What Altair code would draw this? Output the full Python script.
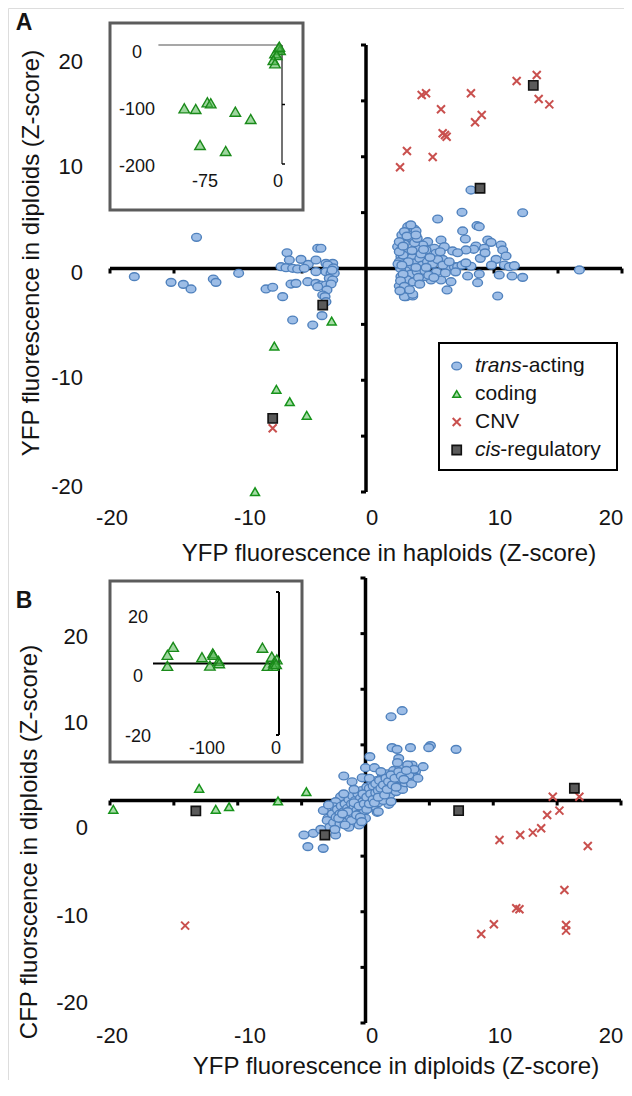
import altair as alt
import pandas as pd

FONT = "Liberation Sans"
INK = "#141414"

# ---------------- Panel A: YFP haploid (x) vs YFP diploid (y) Z-scores ----------------
a_trans = [
    (-13.24, 2.79), (-18.10, -0.73), (-15.23, -1.24), (-14.27, -1.42), (-13.67, -1.83),
    (-11.93, -0.94), (-11.72, -1.24), (-9.95, -0.43), (-7.81, -1.83), (-7.29, -1.68),
    (-6.51, -2.52), (-5.73, -4.61), (-4.16, -5.06), (-3.44, -4.22), (-6.17, 1.41),
    (-3.77, 1.81), (-3.52, 1.81), (-6.64, 0.16), (-6.25, 0.07), (-5.99, 0.76),
    (-5.08, 0.82), (-4.51, 0.37), (-3.91, 0.76), (-5.73, 0.02), (-5.34, -0.04),
    (-4.82, 0.02), (-3.91, -0.28), (-5.86, -1.39), (-5.47, -1.33), (-4.55, -1.18),
    (-3.91, -1.33), (-3.52, -1.48), (-3.13, 0.46), (-2.60, 0.46), (-2.99, 0.31),
    (-3.13, -0.28), (-2.73, -0.43), (-2.48, -0.43), (-2.87, -0.88), (-2.60, -1.03),
    (-3.13, -1.48), (-2.73, -1.39), (-3.05, -1.92), (-3.38, -2.37), (-3.20, -2.52),
    (-3.13, -2.97), (-3.77, -1.63), (-2.55, 0.05), (-2.65, -0.15),
    (8.20, 7.02), (7.50, 5.03), (12.24, 4.99), (5.60, 4.43), (8.67, 3.83),
    (3.26, 3.74), (3.77, 3.53), (3.91, 3.36), (7.55, 3.36), (7.76, 2.64),
    (5.86, 2.55), (4.82, 2.40), (9.51, 2.55), (9.77, 2.34), (10.55, 2.10),
    (10.68, 1.66), (8.59, 2.01), (8.41, 1.72), (7.81, 1.66), (9.24, 1.81),
    (5.34, 1.81), (5.47, 1.36), (6.12, 1.95), (6.77, 1.57), (7.16, 1.41),
    (2.47, 1.95), (2.73, 1.66), (3.13, 2.55), (3.52, 2.70), (4.04, 2.40),
    (4.43, 2.10), (4.69, 1.66), (10.16, 0.82), (10.94, 1.12), (10.81, 0.31),
    (11.20, 0.16), (11.59, 0.25), (8.93, 0.91), (2.73, 1.06), (2.99, 0.76),
    (2.60, 0.61), (2.99, 0.31), (5.99, 0.82), (6.38, 0.16), (6.90, 0.16),
    (7.16, 0.16), (7.94, -0.67), (8.85, -0.49), (8.72, -1.27), (10.41, -0.58),
    (11.41, -0.67), (12.24, -0.79), (10.29, -2.46), (6.33, -1.92), (6.64, -1.18),
    (5.86, -1.03), (5.08, -1.03), (4.56, -0.73), (2.73, -0.73), (2.87, -1.33),
    (2.60, -1.57), (3.26, -1.92), (3.13, -2.52), (3.65, -2.46), (16.67, -0.13),
    (2.8, 3.0), (3.0, 2.2), (2.6, 2.4), (3.3, 1.5), (3.6, 1.0), (2.9, 1.2),
    (3.4, 0.2), (3.8, 0.5), (4.2, 0.9), (3.1, -0.2), (2.7, 0.0), (3.5, -0.5),
    (4.0, -0.3), (4.4, 0.3), (3.2, -1.0), (3.7, -1.2), (2.9, -0.5), (4.8, 0.6),
    (5.2, 0.4), (5.6, 0.8), (4.6, -0.2), (3.9, 1.8), (4.3, 1.3), (5.0, 1.0),
    (2.5, 0.4), (3.4, 2.8), (3.0, 3.3), (3.5, 3.9), (3.8, 2.3), (2.7, -1.1),
    (6.0, 0.3), (5.5, -0.3), (4.9, -0.6), (7.5, 0.3), (8.2, 0.2), (9.3, 1.4),
    (6.5, 0.6), (7.8, 0.5), (9.8, 0.3), (8.85, 3.74), (3.0, -2.52), (3.65, -2.31),
    (2.6, 1.5), (2.9, 2.0), (3.2, 2.9), (3.3, 0.6), (3.6, 1.6), (3.9, 0.1),
    (4.1, -0.8), (4.5, 1.7), (4.7, 0.1), (2.8, 0.3), (3.0, -1.6), (3.4, -1.9),
    (4.0, 2.7), (4.2, -1.4), (5.3, -0.8), (2.65, -2.0), (3.9, 3.0), (5.8, 1.5),
    (6.2, -0.4), (7.0, -0.3),
]
a_coding = [(-2.68, -4.70), (-7.16, -6.94), (-7.00, -10.81), (-5.96, -11.92),
            (-4.63, -13.14), (-8.67, -19.97)]
a_cnv = [(13.34, 17.32), (11.77, 16.78), (4.35, 15.53), (4.69, 15.68), (8.20, 15.68),
         (13.49, 15.17), (14.32, 14.69), (5.86, 14.25), (9.04, 13.74), (8.52, 13.08),
         (5.99, 12.10), (6.17, 11.95), (6.30, 11.79), (3.20, 10.51), (5.21, 9.98),
         (2.66, 9.06), (-7.29, -14.30)]
a_cis = [(13.07, 16.39), (8.91, 7.18), (-3.38, -3.27), (-7.29, -13.41)]
ia_coding = [(-3.6, -5.5), (-1.9, -8.4), (-6.8, -13.9), (-5.1, -16.8), (-8.4, -25.2),
             (-6.8, -30.8), (-2.6, -2.9), (-94.9, -106.4), (-83.8, -107.6),
             (-72.5, -96.3), (-69.2, -98.0), (-45.3, -112.1), (-30.4, -124.4),
             (-79.6, -168.1), (-54.7, -178.2)]

# ---------------- Panel B: YFP diploid (x) vs CFP diploid (y) Z-scores ----------------
b_trans = [
    (2.00, 7.53), (2.87, 8.07), (2.08, 4.75), (2.47, 4.60), (3.52, 4.75), (5.08, 4.93),
    (4.95, 4.75), (7.09, 4.60), (0.34, 3.94), (2.60, 3.79), (0.00, 2.95), (0.70, 2.95),
    (3.65, 3.19), (4.51, 3.04), (3.91, 2.59), (-1.70, 2.20), (-1.05, 1.68), (-0.26, 2.04),
    (3.38, 2.00), (3.91, 2.09), (-1.95, 0.34), (-2.34, -0.11), (-2.47, -0.56),
    (-2.94, -1.60), (-2.34, -2.20), (-2.34, -3.10), (-4.09, -2.95), (-4.82, -3.10),
    (-4.51, -4.15), (-3.31, -4.30), (-0.52, -2.05), (0.91, -1.06), (1.82, -0.34),
    (-3.0, -1.8), (-2.8, -2.4), (-2.6, -1.2), (-2.5, -2.0), (-2.3, -1.5), (-2.2, -0.8),
    (-2.0, -2.1), (-2.0, -1.2), (-1.9, -0.5), (-1.8, -1.7), (-1.7, -1.0), (-1.6, -0.3),
    (-1.5, -1.9), (-1.5, -1.3), (-1.4, -0.7), (-1.3, 0.1), (-1.2, -1.5), (-1.2, -0.9),
    (-1.1, -0.3), (-1.0, -1.2), (-1.0, 0.4), (-0.9, -0.6), (-0.8, -1.6), (-0.8, 0.0),
    (-0.7, -0.9), (-0.6, 0.6), (-0.6, -0.3), (-0.5, -1.2), (-0.4, 0.2), (-0.3, -0.6),
    (-0.3, 0.9), (-0.2, -0.1), (-0.1, -1.0), (0.0, 0.5), (0.0, -0.4), (0.1, 1.2),
    (0.2, 0.1), (0.2, -0.7), (0.3, 0.8), (0.4, -0.2), (0.5, 1.5), (0.5, 0.4),
    (0.6, -0.5), (0.7, 1.0), (0.8, 0.2), (0.9, 1.8), (0.9, 0.7), (1.0, -0.2),
    (1.1, 1.3), (1.2, 0.4), (1.3, 2.1), (1.3, 0.9), (1.4, 0.0), (1.5, 1.6),
    (1.6, 0.8), (1.7, 2.4), (1.8, 1.3), (1.9, 0.5), (2.0, 1.9), (2.1, 1.0),
    (2.2, 2.7), (2.3, 1.6), (2.4, 0.8), (2.5, 2.2), (2.6, 1.3), (2.7, 3.0),
    (2.8, 1.9), (2.9, 1.0), (3.0, 2.5), (3.1, 1.6), (3.3, 3.2), (3.4, 2.3),
    (3.6, 1.5), (3.8, 2.8), (4.1, 2.0), (-3.3, -0.9), (-3.5, -2.6), (-2.9, -0.4),
    (-1.7, 0.6), (-0.9, 1.0), (0.3, 2.0), (1.2, 2.6), (1.0, -1.0), (0.0, -1.6),
    (-0.5, -2.2), (2.0, -0.1), (-1.3, -2.4), (2.5, 3.4),
    (-1.4, -1.0), (-1.1, -1.8), (-0.9, -0.2), (-0.7, -1.3), (-0.5, -0.5), (-0.4, -1.5),
    (-0.2, 0.6), (-0.1, -0.3), (0.1, 0.3), (0.1, -0.8), (0.3, 1.1), (0.3, -0.3),
    (0.4, 0.6), (0.6, 1.3), (0.6, 0.1), (0.7, -0.2), (0.8, 1.5), (0.8, 0.7),
    (1.0, 0.9), (1.0, 0.3), (1.1, 1.8), (1.2, 1.1), (1.4, 1.4), (1.5, 0.5),
    (1.6, 2.0), (1.7, 1.0), (1.8, 1.7), (2.0, 2.3), (2.1, 1.4), (2.3, 2.0),
    (2.4, 1.2), (2.6, 2.6), (2.8, 2.2), (3.0, 1.9), (3.2, 2.7), (-2.1, -1.6),
    (-1.8, -1.2), (-2.4, -2.6), (-1.6, -2.2), (-0.3, -1.9),
]
b_coding = [(-19.74, -0.79), (-13.02, 1.10), (-11.72, -0.79), (-10.68, -0.56),
            (-6.85, -0.04), (-4.63, 0.79)]
b_cnv = [(14.66, 0.34), (16.74, 0.34), (15.18, -0.91), (14.22, -1.30), (13.75, -2.50),
         (13.10, -2.89), (12.11, -3.10), (10.49, -3.55), (17.40, -4.09), (15.57, -8.04),
         (11.80, -9.69), (12.05, -9.78), (10.05, -11.13), (9.06, -12.00), (15.70, -11.19),
         (15.70, -11.70), (-14.12, -11.25)]
b_cis = [(-13.28, -0.94), (-3.18, -3.10), (7.29, -0.91), (16.35, 1.10)]
ib_coding = [(-155, 2.9), (-147, 5.6), (-155, -0.8), (-107, 2.1), (-96, -0.7),
             (-92, 3.4), (-91, 2.9), (-84, 0.9), (-83, 0.1), (-23, 5.3), (-16, -0.8),
             (-10, 2.3), (-7, 0.3), (-3, 1.4), (-8, -0.8), (-4, -0.2)]

# ---------------- tick labels / legend text ----------------
main_labels = [-20, -10, 0, 10, 20]
main_ticks = [-20, -15, -10, -5, 5, 10, 15, 20]
ia_y_labels = [0, -100, -200]
ia_x_labels = [-75, 0]
ib_y_labels = [20, 0, -20]
ib_x_labels = [-100, 0]
legend_italic = ["trans", "", "", "cis"]
legend_plain = ["-acting", "coding", "CNV", "-regulatory"]
legend_keys = ["trans", "coding", "cnv", "cis"]

titles = {
    "ax": "YFP fluorescence in haploids (Z-score)",
    "ay": "YFP fluorescence in diploids (Z-score)",
    "bx": "YFP fluorescence in diploids (Z-score)",
    "by": "CFP fluorscence in diploids (Z-score)",
}

# ---------------- helpers ----------------
M = 8  # page margin


def P(v):
    return v - M


def S(domain, rng):
    return alt.Scale(domain=domain, range=[P(r) for r in rng], nice=False, zero=False)


ELLIPSE = "M-1,0A1,0.8,0,1,0,1,0A1,0.8,0,1,0,-1,0Z"
XSHAPE = "M-1,-1L1,1M-1,1L1,-1"
STY = {
    "trans": dict(shape=ELLIPSE, filled=True, fill="#9dbde6", stroke="#4f81bd",
                  strokeWidth=1.4, size=95, opacity=1),
    "coding": dict(shape="triangle-up", filled=True, fill="#a6dba6", stroke="#16931a",
                   strokeWidth=1.5, size=80, opacity=1),
    "cnv": dict(shape=XSHAPE, filled=False, stroke="#c9504e", strokeWidth=2,
                size=64, opacity=1),
    "cis": dict(shape="square", filled=True, fill="#5a5a5a", stroke="#111111",
                strokeWidth=1.6, size=85, opacity=1),
}
INSET_TRI = dict(shape="triangle-up", filled=True, fill="#4fb44f", fillOpacity=0.55,
                 stroke="#1a8a1a", strokeWidth=1.4, size=110, opacity=1)


def points(pairs, xs, ys, **mk):
    df = pd.DataFrame(pairs, columns=["x", "y"])
    return alt.Chart(df).mark_point(**mk).encode(
        x=alt.X("x:Q", scale=xs, axis=None), y=alt.Y("y:Q", scale=ys, axis=None))


def hseg(x0, x1, y, xs, ys, **mk):
    df = pd.DataFrame({"x": [x0], "x2": [x1], "y": [y]})
    return alt.Chart(df).mark_rule(**mk).encode(
        x=alt.X("x:Q", scale=xs, axis=None), x2="x2:Q", y=alt.Y("y:Q", scale=ys, axis=None))


def vseg(x, y0, y1, xs, ys, **mk):
    df = pd.DataFrame({"x": [x], "y": [y0], "y2": [y1]})
    return alt.Chart(df).mark_rule(**mk).encode(
        x=alt.X("x:Q", scale=xs, axis=None), y=alt.Y("y:Q", scale=ys, axis=None), y2="y2:Q")


def ticks(vals, xs, ys, orient, shape, size=100, width=3):
    if orient == "h":
        df = pd.DataFrame({"x": vals, "y": [0] * len(vals)})
    else:
        df = pd.DataFrame({"x": [0] * len(vals), "y": vals})
    return alt.Chart(df).mark_point(shape=shape, filled=False, stroke="black",
                                     strokeWidth=width, size=size, opacity=1).encode(
        x=alt.X("x:Q", scale=xs, axis=None), y=alt.Y("y:Q", scale=ys, axis=None))


def ylabels(vals, ys, xpix, size, align="right"):
    df = pd.DataFrame({"v": vals, "t": [str(v) for v in vals]})
    return alt.Chart(df).mark_text(align=align, baseline="middle", font=FONT,
                                   fontSize=size, color=INK).encode(
        y=alt.Y("v:Q", scale=ys, axis=None), x=alt.value(P(xpix)), text="t:N")


def xlabels(vals, xs, ypix, size):
    df = pd.DataFrame({"v": vals, "t": [str(v) for v in vals]})
    return alt.Chart(df).mark_text(align="center", baseline="middle", font=FONT,
                                   fontSize=size, color=INK).encode(
        x=alt.X("v:Q", scale=xs, axis=None), y=alt.value(P(ypix)), text="t:N")


def text(t, x, y, **mk):
    mk.setdefault("font", FONT)
    mk.setdefault("color", INK)
    return alt.Chart(pd.DataFrame({"t": [t]})).mark_text(**mk).encode(
        x=alt.value(P(x)), y=alt.value(P(y)), text="t:N")


def frame(x0, y0, x1, y1, **mk):
    return alt.Chart(pd.DataFrame({"a": [0]})).mark_rect(**mk).encode(
        x=alt.value(P(x0)), x2=alt.value(P(x1)), y=alt.value(P(y0)), y2=alt.value(P(y1)))


# ---------------- scales (page pixel ranges) ----------------
AX = S([-20, 20], [110, 622])
AY = S([-20, 20], [492, 45])
BX = S([-20, 20], [110, 621])
BY = S([-20, 20], [1023, 578])
# tick-label placement as printed in the figure (piecewise)
LX = S(main_labels, [112, 250, 372, 500, 611])
LAY = S(main_labels, [487, 378, 273, 167, 62])
LBY = S(main_labels, [1003, 916, 828, 723, 637])
IAX = S([-120, 0], [158.4, 282])
IAY = S([-200, 0], [164, 45])
IALX = S([-120, 0], [161.2, 278])
IALY = S([-200, 0], [167, 53])
IBX = S([-175, 0], [153, 279])
IBY = S([-24, 24], [735, 592])
IBLX = S([-175, 0], [155.3, 276])
IBLY = S([-24, 24], [748.4, 605.6])

TD = "M0,0L0,1"
TL = "M0,0L-1,0"
TR = "M0,0L1,0"

layers = []

# ----- Panel A -----
layers += [
    hseg(-20, 20, 0, AX, AY, color="black", strokeWidth=3.5),
    vseg(0, -20, 20, AX, AY, color="black", strokeWidth=3.5),
    ticks(main_ticks, AX, AY, "h", TD),
    ticks(main_ticks, AX, AY, "v", TL),
    points(a_trans, AX, AY, **STY["trans"]),
    points(a_coding, AX, AY, **STY["coding"]),
    points(a_cnv, AX, AY, **STY["cnv"]),
    points(a_cis, AX, AY, **STY["cis"]),
    ylabels(main_labels, LAY, 83, 22),
    xlabels(main_labels, LX, 518, 22),
    text(titles["ax"], 389, 554, fontSize=24, align="center", baseline="middle"),
    text(titles["ay"], 32, 253, fontSize=24, align="center", baseline="middle", angle=270),
    text("A", 24, 23, fontSize=23, fontWeight="bold", align="center", baseline="middle"),
    # inset A
    frame(110, 23, 303, 210, fill="white", fillOpacity=0, stroke="#5c5c5c", strokeWidth=3),
    hseg(-120, 0, 0, IAX, IAY, color="#8a8a8a", strokeWidth=1.5),
    vseg(0, -200, 0, IAX, IAY, color="#444444", strokeWidth=1.5),
    ticks([-100, -200], IAX, IAY, "v", TR, size=36, width=1.5),
    points(ia_coding, IAX, IAY, **INSET_TRI),
    ylabels(ia_y_labels, IALY, 137, 18, align="center"),
    xlabels(ia_x_labels, IALX, 182, 18),
]

# legend (panel A)
lg_y = S([0, 3], [366, 450])
lg_df = pd.DataFrame({"r": [0, 1, 2, 3], "k": legend_keys,
                      "it": legend_italic, "pl": legend_plain})
layers.append(frame(439, 343, 617, 470, fill="white", stroke="black", strokeWidth=2))
for i, k in enumerate(legend_keys):
    sty = dict(STY[k])
    if k == "coding":
        sty["size"] = 60
    layers.append(alt.Chart(lg_df.iloc[[i]]).mark_point(**sty).encode(
        x=alt.value(P(456.7)), y=alt.Y("r:Q", scale=lg_y, axis=None)))
italic_w = {"trans": 46.7, "cis": 25.3}
for i, k in enumerate(legend_keys):
    row = lg_df.iloc[[i]]
    start = 475
    if legend_italic[i]:
        layers.append(alt.Chart(row).mark_text(
            align="left", baseline="middle", font=FONT, fontSize=21, fontStyle="italic",
            color=INK).encode(x=alt.value(P(start)),
                              y=alt.Y("r:Q", scale=lg_y, axis=None), text="it:N"))
        start += italic_w[k]
    layers.append(alt.Chart(row).mark_text(
        align="left", baseline="middle", font=FONT, fontSize=21, color=INK).encode(
        x=alt.value(P(start)), y=alt.Y("r:Q", scale=lg_y, axis=None), text="pl:N"))

# ----- Panel B -----
layers += [
    hseg(-20, 20, 0, BX, BY, color="black", strokeWidth=3.5),
    vseg(0, -20, 20, BX, BY, color="black", strokeWidth=3.5),
    ticks(main_ticks, BX, BY, "h", TD),
    ticks(main_ticks, BX, BY, "v", TL),
    points(b_trans, BX, BY, **STY["trans"]),
    points(b_coding, BX, BY, **STY["coding"]),
    points(b_cnv, BX, BY, **STY["cnv"]),
    points(b_cis, BX, BY, **STY["cis"]),
    ylabels(main_labels, LBY, 88, 22),
    xlabels(main_labels, LX, 1036, 22),
    text(titles["bx"], 396, 1074, fontSize=24, align="center", baseline="alphabetic"),
    text(titles["by"], 30, 842, fontSize=24, align="center", baseline="middle", angle=270),
    text("B", 24, 601, fontSize=23, fontWeight="bold", align="center", baseline="middle"),
    # inset B
    frame(110, 581, 302, 762, fill="white", fillOpacity=0, stroke="#5c5c5c", strokeWidth=3),
    hseg(-175, 0, 0, IBX, IBY, color="black", strokeWidth=2),
    vseg(0, -24, 24, IBX, IBY, color="black", strokeWidth=2),
    ticks([-24, 24], IBX, IBY, "v", TL, size=36, width=2),
    points(ib_coding, IBX, IBY, **INSET_TRI),
    ylabels(ib_y_labels, IBLY, 138, 18, align="center"),
    xlabels(ib_x_labels, IBLX, 749, 18),
]

chart = alt.layer(*layers).resolve_scale(
    x="independent", y="independent"
).properties(
    width=616, height=1072, padding=0, autosize=alt.AutoSizeParams(type="none")
).configure_view(strokeWidth=0).configure(background="white")

chart.save("out.html", embed_options={"renderer": "svg", "actions": False})
